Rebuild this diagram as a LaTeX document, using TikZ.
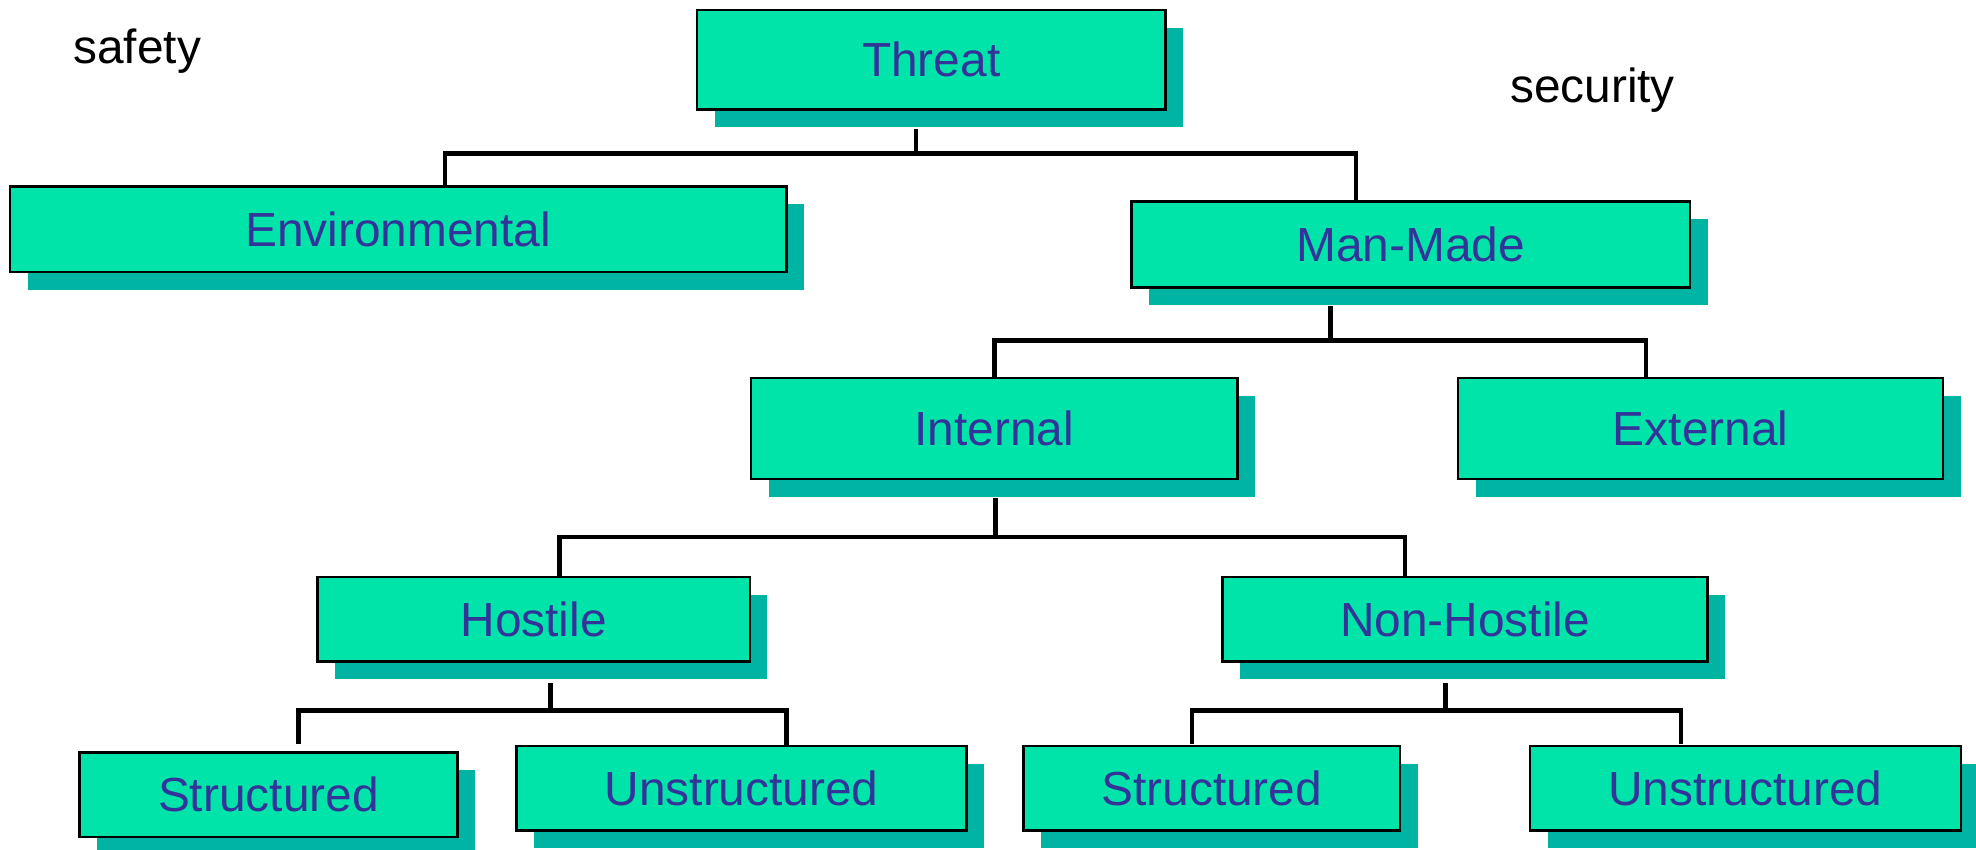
\documentclass[tikz,border=0pt]{standalone}
\usepackage{fontspec}
\setmainfont{Liberation Sans}
\usetikzlibrary{shadows}
\definecolor{boxfill}{HTML}{00E4AA}
\definecolor{boxshade}{HTML}{00B4A4}
\definecolor{boxtext}{HTML}{333399}
\tikzset{
  tbox/.style 2 args={draw=black, line width=1.4pt, fill=boxfill, text=boxtext,
    inner sep=0pt, minimum width=#1*0.025cm, minimum height=#2*0.025cm,
    font=\fontsize{27}{32}\selectfont,
    drop shadow={shadow xshift=0.35cm, shadow yshift=-0.35cm, fill=boxshade, opacity=1}},
  conn/.style={line width=2.6pt, line cap=butt},
  note/.style={font=\fontsize{27}{32}\selectfont, inner sep=0pt, anchor=base west}
}
\begin{document}
\begin{tikzpicture}[x=0.025cm, y=-0.025cm]
			\useasboundingbox (0,0) rectangle (1568,674);
			% bar corners
			\coordinate (j1) at (727,122);
			\coordinate (b1l) at (353,122);
			\coordinate (b1r) at (1076,122);
			\coordinate (j2) at (1056,270);
			\coordinate (b2l) at (789,270);
			\coordinate (b2r) at (1306,270);
			\coordinate (j3) at (790,426);
			\coordinate (b3l) at (444,426);
			\coordinate (b3r) at (1115,426);
			\coordinate (j4) at (437,564);
			\coordinate (b4l) at (237,564);
			\coordinate (b4r) at (624,564);
			\coordinate (e4l) at (237,590);
			\coordinate (e4r) at (624,591);
			\coordinate (j5) at (1147,564);
			\coordinate (b5l) at (946,564);
			\coordinate (b5r) at (1334,564);
			\coordinate (e5l) at (946,590);
			\coordinate (e5r) at (1334,590);
			% boxes
			\node [tbox={372}{79}] (threat) at (739,47.5) {Threat};
			\node [tbox={616}{68}] (env) at (316,182) {Environmental};
			\node [tbox={443}{68}] (mm) at (1119.5,194) {Man-Made};
			\node [tbox={386}{80}] (int) at (789,340) {Internal};
			\node [tbox={385}{80}] (ext) at (1349.5,340) {External};
			\node [tbox={343}{67}] (host) at (423.5,491.5) {Hostile};
			\node [tbox={385}{67}] (nhost) at (1162.5,491.5) {Non-Hostile};
			\node [tbox={300}{67}] (str1) at (213,630.5) {Structured};
			\node [tbox={357}{67}] (uns1) at (588.5,625.5) {Unstructured};
			\node [tbox={299}{67}] (str2) at (961.5,625.5) {Structured};
			\node [tbox={342}{67}] (uns2) at (1385,625.5) {Unstructured};
			% connectors, ticks start below the shadow
			\draw [conn] ([yshift=-0.35cm]threat.south -| j1) -- (j1);
			\draw [conn] (env.north -| b1l) -- (b1l) -- (b1r) -- (mm.north -| b1r);
			\draw [conn] ([yshift=-0.35cm]mm.south -| j2) -- (j2);
			\draw [conn] (int.north -| b2l) -- (b2l) -- (b2r) -- (ext.north -| b2r);
			\draw [conn] ([yshift=-0.35cm]int.south -| j3) -- (j3);
			\draw [conn] (host.north -| b3l) -- (b3l) -- (b3r) -- (nhost.north -| b3r);
			\draw [conn] ([yshift=-0.4cm]host.south -| j4) -- (j4);
			\draw [conn] (e4l) -- (b4l) -- (b4r) -- (e4r);
			\draw [conn] ([yshift=-0.4cm]nhost.south -| j5) -- (j5);
			\draw [conn] (e5l) -- (b5l) -- (b5r) -- (e5r);
			\node [note] (safety) at (58,50) {safety};
			\node [note] (security) at (1198,81) {security};
		\end{tikzpicture}
\end{document}
